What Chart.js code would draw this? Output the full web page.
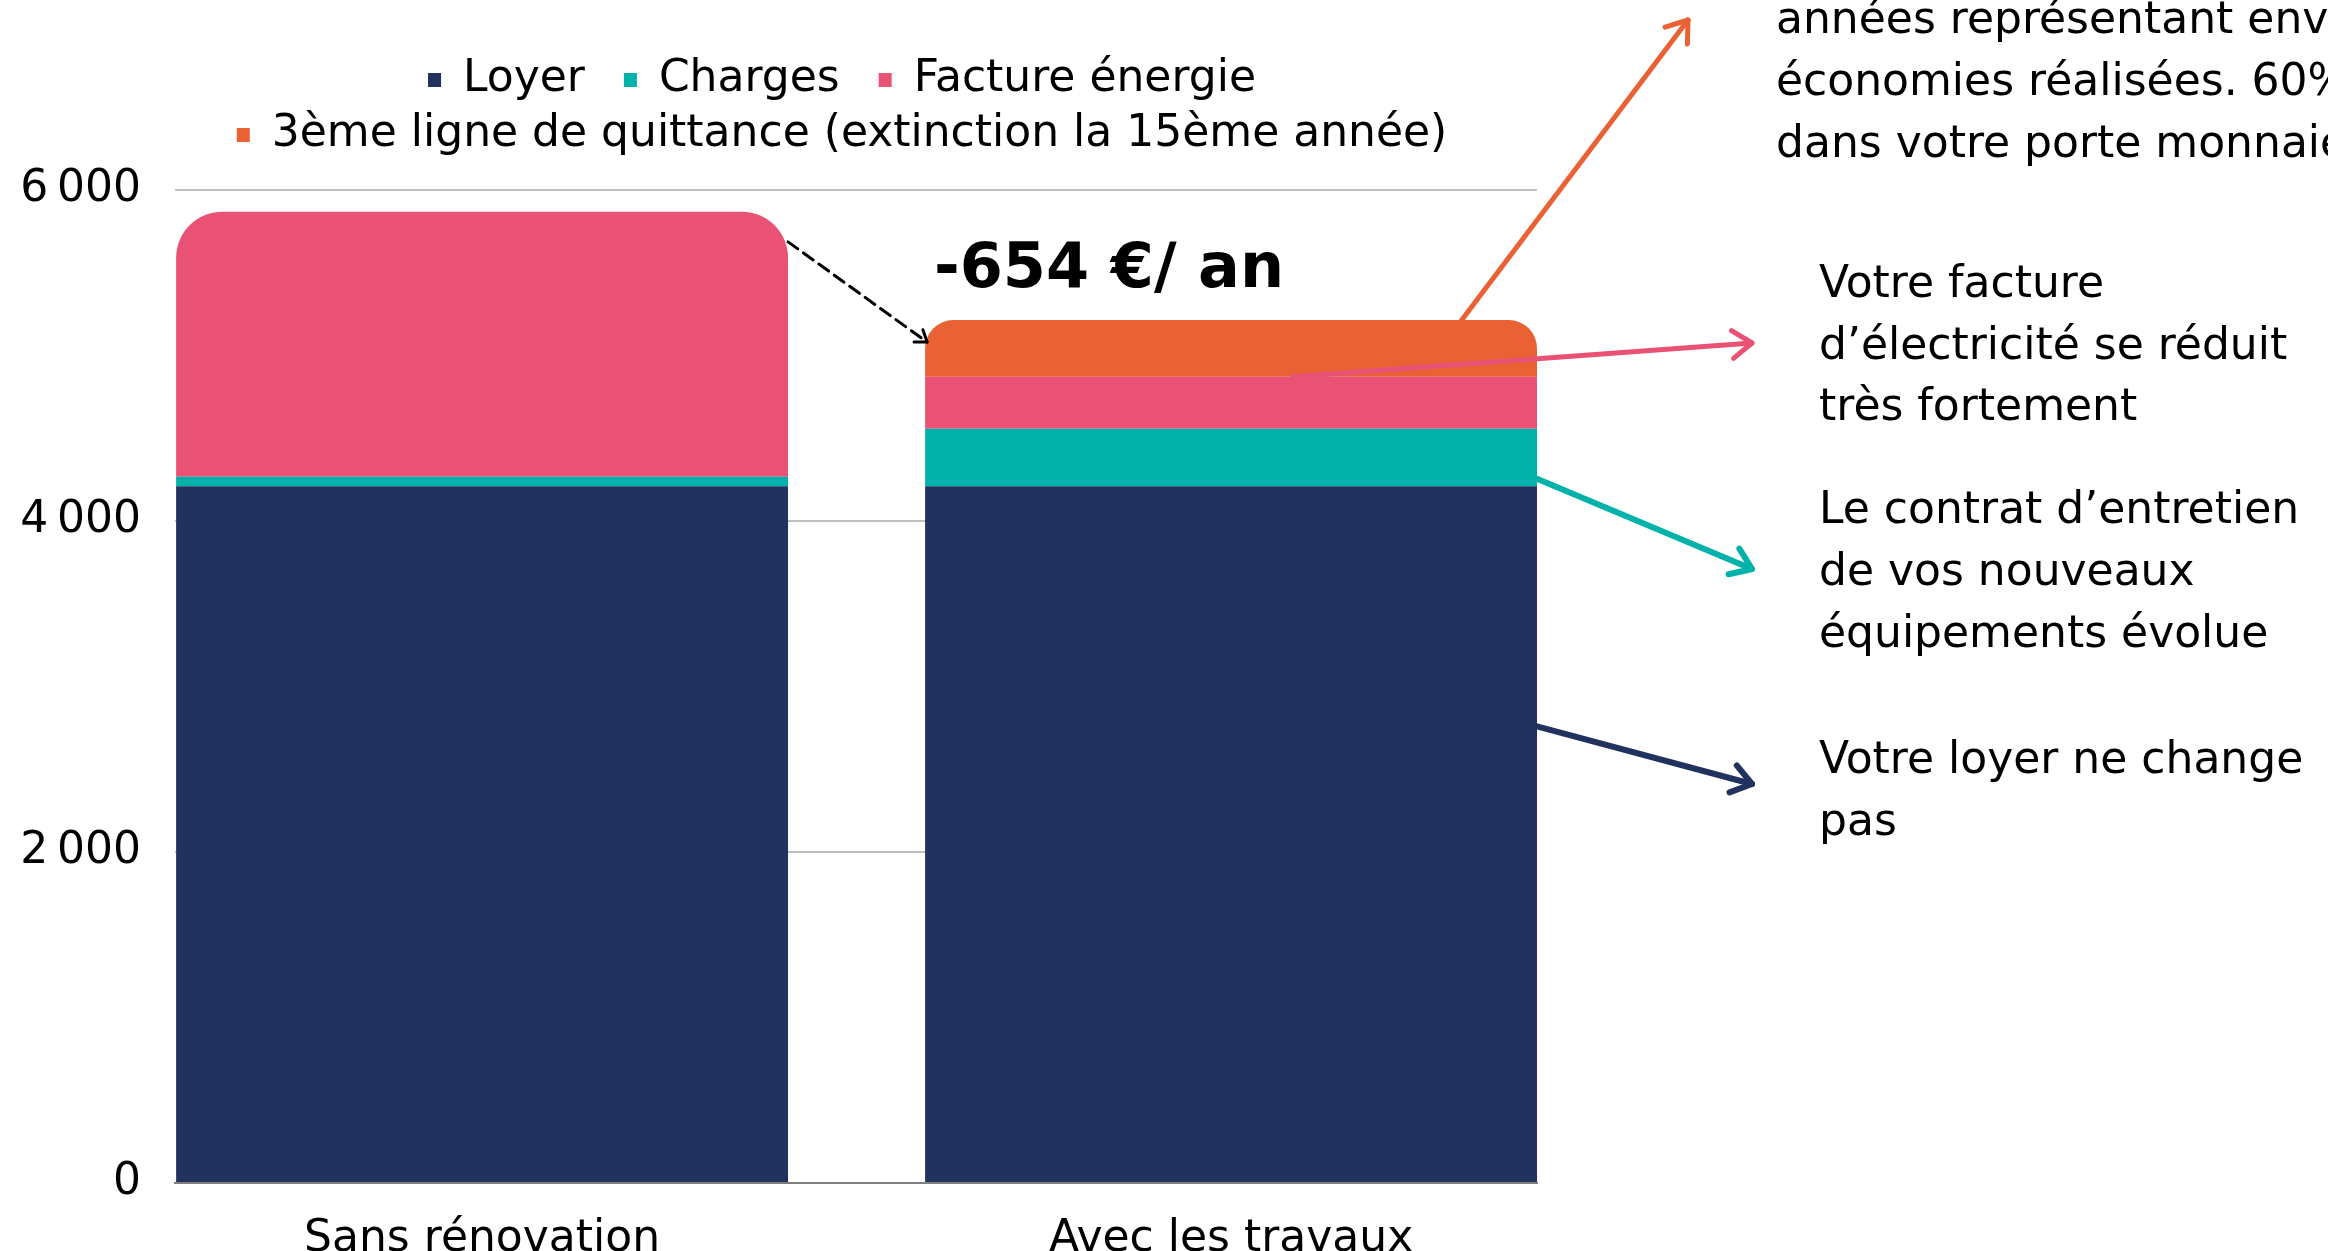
<!DOCTYPE html>
<html>
<head>
	<meta charset="utf-8">
	<title>Quittance</title>
	<script src="https://cdn.jsdelivr.net/npm/chart.js@4.4.0/dist/chart.umd.min.js"></script>
	<style>
		body { margin: 0; background: #fff; }
	</style>
</head>
<body>
	<canvas id="quittance" width="2328" height="1251"></canvas>

<script>
	// donnees en euros par an
	var categories = ["Sans rénovation", "Avec les travaux"];
	var loyer = [4210, 4210];
	var charges = [58, 347];
	var factureEnergie = [1600, 315];
	var troisiemeLigne = [0, 342];

	var seriesNames = ["Loyer", "Charges", "Facture énergie", "3ème ligne de quittance (extinction la 15ème année)"];
	var seriesValues = [loyer, charges, factureEnergie, troisiemeLigne];
	var seriesColors = ["#22325e", "#00b2a9", "#e95274", "#ea6234"];

	var yTicks = [0, 2000, 4000, 6000];
	var yTickLabels = ["0", "2\u202f000", "4\u202f000", "6\u202f000"];

	// textes a droite
	var noteOrange = ["années représentant environ", "économies réalisées. 60%", "dans votre porte monnaie"];
	var notePink = ["Votre facture", "d\u2019électricité se réduit", "très fortement"];
	var noteTeal = ["Le contrat d\u2019entretien", "de vos nouveaux", "équipements évolue"];
	var noteNavy = ["Votre loyer ne change", "pas"];

	var FONT = '"DejaVu Sans", sans-serif';
	Chart.defaults.font.family = FONT;
	Chart.defaults.color = "#000";

	function total(i) {
		var s = 0;
		seriesValues.forEach(function (vals) { s += vals[i]; });
		return s;
	}

	// index du segment du haut (le seul avec des coins arrondis)
	function topSeries(i) {
		var top = -1;
		seriesValues.forEach(function (vals, k) { if (vals[i] > 0) top = k; });
		return top;
	}

	function fleche(ctx, x1, y1, x2, y2, color, width, head, dash) {
		ctx.save();
		ctx.strokeStyle = color;
		ctx.lineWidth = width;
		ctx.lineCap = "round";
		ctx.lineJoin = "round";
		ctx.setLineDash(dash || []);
		ctx.beginPath();
		ctx.moveTo(x1, y1);
		ctx.lineTo(x2, y2);
		ctx.stroke();
		ctx.setLineDash([]);
		var a = Math.atan2(y2 - y1, x2 - x1);
		ctx.beginPath();
		ctx.moveTo(x2 - head * Math.cos(a - 0.62), y2 - head * Math.sin(a - 0.62));
		ctx.lineTo(x2, y2);
		ctx.lineTo(x2 - head * Math.cos(a + 0.62), y2 - head * Math.sin(a + 0.62));
		ctx.stroke();
		ctx.restore();
	}

	function lignes(ctx, txt, x, y0, step) {
		txt.forEach(function (t, n) { ctx.fillText(t, x, y0 + n * step); });
	}

	var annotations = {
		id: "annotations",
		afterDraw: function (chart) {
			var ctx = chart.ctx;
			var bar = function (k, i) { return chart.getDatasetMeta(k).data[i]; };
			var left = bar(topSeries(0), 0);
			var r = bar(0, 1);
			var rLeft = r.x - r.width / 2, rRight = r.x + r.width / 2;
			var rTop = bar(topSeries(1), 1);
			var rPink = bar(2, 1), rTeal = bar(1, 1), rNavy = bar(0, 1);

			// ecart entre les deux barres
			var diff = total(1) - total(0);
			ctx.save();
			ctx.fillStyle = "#000";
			ctx.font = "bold 62px " + FONT;
			ctx.textBaseline = "alphabetic";
			ctx.fillText(diff + " €/ an", 934, 287);
			ctx.restore();

			fleche(ctx, left.x + left.width / 2, left.y + 30, rLeft + 2, rTop.y + 22, "#000", 3, 13, [12, 7]);
			fleche(ctx, rLeft + 0.877 * r.width, rTop.y, 1688, 20, "#ea6234", 5, 24);
			fleche(ctx, rLeft + 0.6 * r.width, rPink.y, 1752, 343, "#e95274", 5, 24);
			fleche(ctx, rRight, rTeal.y + 0.87 * (rTeal.base - rTeal.y), 1752, 569, "#00b2a9", 6, 24);
			fleche(ctx, rRight, rNavy.y + 0.345 * (rNavy.base - rNavy.y), 1752, 784, "#22325e", 6, 24);

			ctx.save();
			ctx.fillStyle = "#000";
			ctx.font = "44px " + FONT;
			ctx.textBaseline = "alphabetic";
			lignes(ctx, noteOrange, 1776, 33, 62);
			lignes(ctx, notePink, 1819, 297, 61.5);
			lignes(ctx, noteTeal, 1819, 523, 62);
			lignes(ctx, noteNavy, 1819, 773, 62);
			ctx.restore();
		}
	};

	var canvas = document.getElementById("quittance").getContext("2d");
	window.quittance = new Chart(canvas, {
		type: "bar",
		data: {
			datasets: seriesNames.map(function (name, k) {
				return {
					label: name,
					data: seriesValues[k].map(function (v, i) { return { x: i, y: v }; }),
					backgroundColor: seriesColors[k],
					borderWidth: 0,
					barPercentage: 0.817,
					categoryPercentage: 1,
					borderRadius: function (c) {
						if (c.datasetIndex === topSeries(c.dataIndex)) {
							return { topLeft: 46, topRight: 46, bottomLeft: 0, bottomRight: 0 };
						}
						return 0;
					}
				};
			})
		},
		options: {
			responsive: false,
			animation: false,
			devicePixelRatio: 1,
			layout: { padding: { top: 47, right: 791, bottom: 0, left: 0 } },
			plugins: {
				legend: {
					position: "top",
					fullSize: false,
					labels: {
						boxWidth: 13,
						boxHeight: 14,
						padding: 11,
						font: { size: 44 },
						color: "#000",
						generateLabels: function (chart) {
							return Chart.defaults.plugins.legend.labels.generateLabels(chart).map(function (l) {
								l.text = l.text + "  ";
								return l;
							});
						}
					}
				},
				// espace vide entre la legende et le graphique
				title: { display: true, text: "", weight: 0, padding: 0, font: { size: 23, lineHeight: 1 } },
				tooltip: { enabled: false }
			},
			scales: {
				x: {
					type: "linear",
					stacked: true,
					offset: false,
					bounds: "data",
					min: -0.41,
					max: 1.4085,
					afterBuildTicks: function (scale) {
						scale.ticks = categories.map(function (c, i) { return { value: i }; });
					},
					afterFit: function (scale) { scale.height = 68; },
					ticks: {
						callback: function (v) { return categories[v]; },
						font: { size: 44 },
						color: "#000",
						padding: 22,
						maxRotation: 0,
						autoSkip: false
					},
					grid: { display: false, offset: false },
					border: { display: true, color: "#7f7f7f", width: 2 }
				},
				y: {
					stacked: true,
					min: 0,
					max: 6000,
					afterBuildTicks: function (scale) {
						scale.ticks = yTicks.map(function (v) { return { value: v }; });
					},
					afterFit: function (scale) { scale.width = 175; },
					ticks: {
						callback: function (v) { return yTickLabels[yTicks.indexOf(v)]; },
						font: { size: 44 },
						color: "#000",
						padding: 34
					},
					grid: { color: "#bfbfbf", lineWidth: 2, drawTicks: false },
					border: { display: false }
				}
			}
		},
		plugins: [annotations]
	});
</script>
</body>
</html>
